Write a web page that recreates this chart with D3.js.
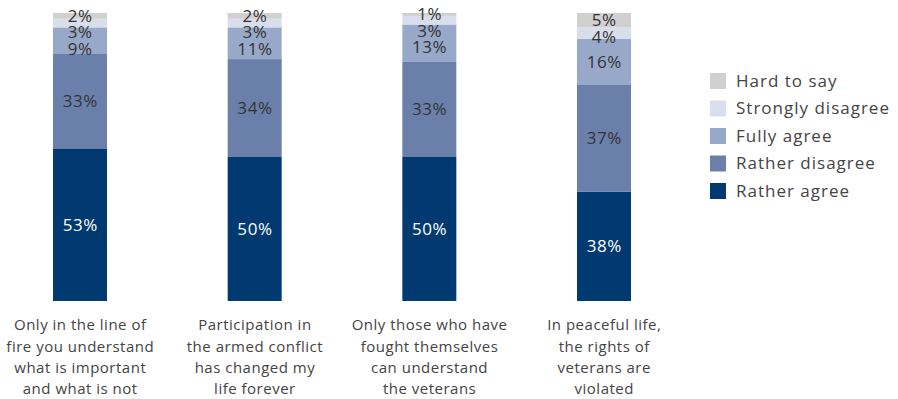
<!DOCTYPE html>
<html>
<head>
<meta charset="utf-8">
<script src="https://cdn.jsdelivr.net/npm/d3@7"></script>
<style>
  html, body { margin: 0; padding: 0; background: #fff; }
  svg { display: block; font-family: "Open Sans", sans-serif; }
</style>
</head>
<body>
<svg id="chart" width="898" height="399"></svg>
<script>
// Survey statements (one stacked column each), lines of the wrapped axis label
const categories = [
  ["Only in the line of", "fire you understand", "what is important", "and what is not"],
  ["Participation in", "the armed conflict", "has changed my", "life forever"],
  ["Only those who have", "fought themselves", "can understand", "the veterans"],
  ["In peaceful life,", "the rights of", "veterans are", "violated"]
];

// Answer options, stacked bottom to top
const seriesNames = ["Rather agree", "Rather disagree", "Fully agree", "Strongly disagree", "Hard to say"];
const seriesColors = ["#003a70", "#6a80ab", "#98a8c8", "#d8deeb", "#d0d0d0"];
const labelColors = ["#ffffff", "#333333", "#333333", "#333333", "#333333"];

// Share of respondents, %, per category
const ratherAgree      = [53, 50, 50, 38];
const ratherDisagree   = [33, 34, 33, 37];
const fullyAgree       = [9, 11, 13, 16];
const stronglyDisagree = [3, 3, 3, 4];
const hardToSay        = [2, 2, 1, 5];

const seriesValues = [ratherAgree, ratherDisagree, fullyAgree, stronglyDisagree, hardToSay];

const svg = d3.select("#chart");

const keys = categories.map((c, i) => "c" + i);
const x = d3.scalePoint().domain(keys).range([80, 604]);
const barWidth = 54;
const y = d3.scaleLinear().domain([0, 100]).range([301, 13]);

const rows = keys.map((k, i) => {
  const r = { key: k };
  seriesNames.forEach((s, j) => { r[s] = seriesValues[j][i]; });
  return r;
});
const stacked = d3.stack().keys(seriesNames)(rows);

// Stacked bars
const layers = svg.append("g").selectAll("g")
  .data(stacked)
  .join("g")
  .attr("fill", (d, j) => seriesColors[j]);

layers.selectAll("rect")
  .data(d => d)
  .join("rect")
  .attr("x", d => x(d.data.key) - barWidth / 2)
  .attr("width", barWidth)
  .attr("y", d => y(d[1]))
  .attr("height", d => y(d[0]) - y(d[1]));

// Value labels: centred on each segment; thin segments near the top are
// spread downwards so the labels don't sit on top of each other
const minGap = 16.5;
keys.forEach((k, i) => {
  const items = stacked.map((layer, j) => {
    const seg = layer[i];
    return { j, v: seg[1] - seg[0], cy: (y(seg[0]) + y(seg[1])) / 2 };
  });
  // walk from top segment down
  const ordered = items.slice().reverse();
  let prev = -Infinity;
  ordered.forEach(it => {
    it.ly = Math.max(it.cy, prev + minGap);
    prev = it.ly;
  });
  svg.append("g").selectAll("text")
    .data(items)
    .join("text")
    .attr("x", x(k) + 0.3)
    .attr("y", d => d.ly)
    .attr("dy", "0.35em")
    .attr("text-anchor", "middle")
    .attr("font-size", 17)
    .attr("letter-spacing", 0.6)
    .attr("fill", d => labelColors[d.j])
    .text(d => d.v + "%");
});

// Category labels under the bars
const catG = svg.append("g");
keys.forEach((k, i) => {
  const t = catG.append("text")
    .attr("x", x(k))
    .attr("y", 325)
    .attr("text-anchor", "middle")
    .attr("font-size", 15)
    .attr("letter-spacing", 0.5)
    .attr("fill", "#444");
  categories[i].forEach((line, li) => {
    t.append("tspan")
      .attr("x", x(k) + 0.25)
      .attr("y", 325 + li * 21.3)
      .attr("dy", "0.35em")
      .text(line);
  });
});

// Legend, top entry = top of the stack
const legendNames = seriesNames.slice().reverse();
const legendColors = seriesColors.slice().reverse();
const legend = svg.append("g").attr("transform", "translate(710,73)");
const items = legend.selectAll("g")
  .data(legendNames)
  .join("g")
  .attr("transform", (d, i) => `translate(0,${i * 27.5})`);
items.append("rect")
  .attr("width", 16)
  .attr("height", 16)
  .attr("fill", (d, i) => legendColors[i]);
items.append("text")
  .attr("x", 26)
  .attr("y", 8)
  .attr("dy", "0.35em")
  .attr("font-size", 17)
  .attr("letter-spacing", 1)
  .attr("fill", "#444")
  .text(d => d);
</script>
</body>
</html>
